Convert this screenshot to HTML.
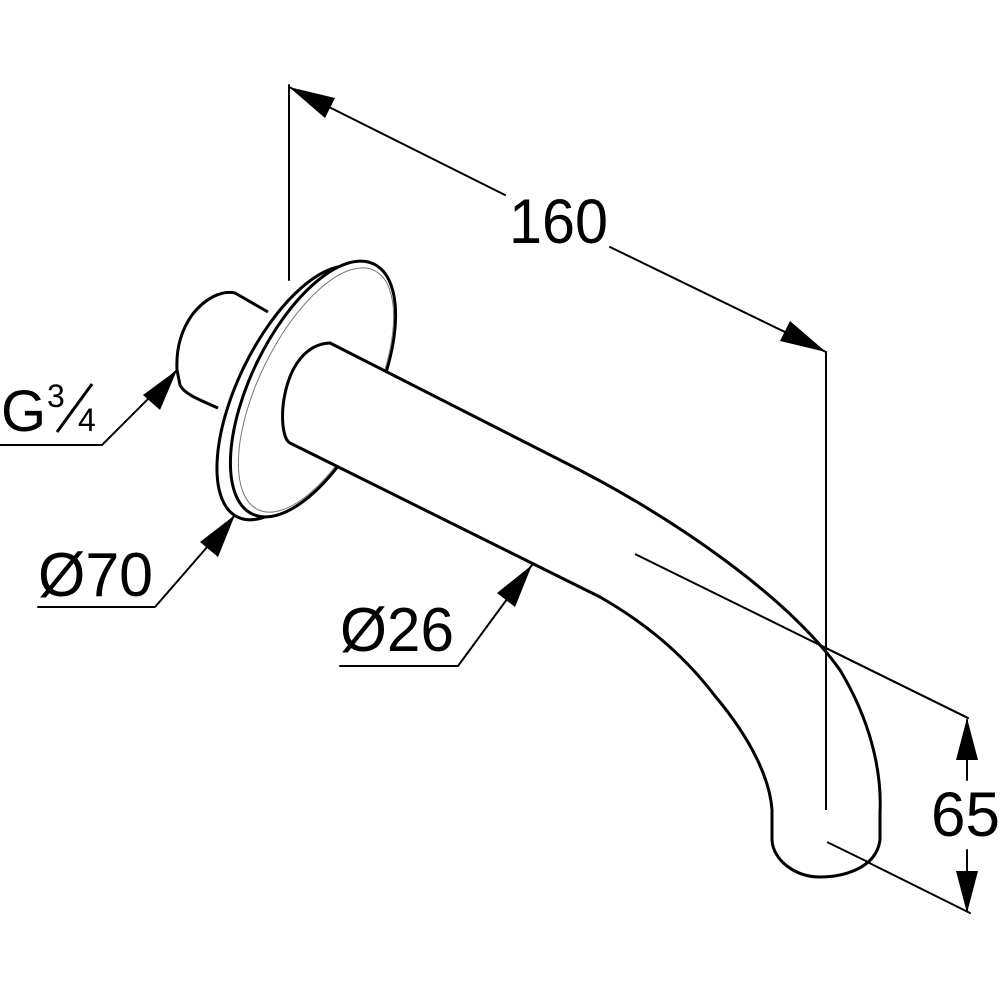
<!DOCTYPE html>
<html><head><meta charset="utf-8"><style>html,body{margin:0;padding:0;background:#fff}svg{display:block}</style></head>
<body>
<svg width="1000" height="1000" viewBox="0 0 1000 1000" xmlns="http://www.w3.org/2000/svg">
<rect width="1000" height="1000" fill="#fff"/>
<g fill="none" stroke="#000" stroke-linecap="round" stroke-linejoin="round">
<line x1="289" y1="85" x2="289" y2="280" stroke-width="2"/>
<line x1="826" y1="352" x2="826" y2="810" stroke-width="2"/>
<line x1="635" y1="554" x2="968" y2="718" stroke-width="2"/>
<line x1="827" y1="842" x2="970" y2="913" stroke-width="2"/>
<line x1="289" y1="87" x2="505" y2="195" stroke-width="2"/>
<line x1="610" y1="247" x2="826" y2="352" stroke-width="2"/>
<line x1="967" y1="720" x2="967" y2="780" stroke-width="2"/>
<line x1="967" y1="850" x2="967" y2="911" stroke-width="2"/>
<polyline points="0,445 102,445 177,370" stroke-width="2"/>
<polyline points="38,607 155,607 235,515" stroke-width="2"/>
<polyline points="340,666 458,666 532,565" stroke-width="2"/>
</g>
<g fill="#000">
<polygon points="289,87 335,98 325,118"/>
<polygon points="826,352 780,341 790,321"/>
<polygon points="967,718 978,760 956,760"/>
<polygon points="967,913 978,871 956,871"/>
<polygon points="177,370 160,410 143,395"/>
<polygon points="235,515 218,557 200,542"/>
<polygon points="532,565 515,607 497,593"/>
</g>
<path d="M268,312 L235,293 C222,290 205,298 192,315 C180,332 176,350 177,370 L180,385 C184,394 200,400 218,408" fill="#fff" stroke="#000" stroke-width="3"/>
<ellipse cx="298" cy="393" rx="60" ry="138" transform="rotate(26 298 393)" fill="#fff" stroke="#000" stroke-width="3"/>
<ellipse cx="313" cy="389" rx="62" ry="139" transform="rotate(26 313 389)" fill="#fff" stroke="#000" stroke-width="3"/>
<ellipse cx="316" cy="390" rx="57" ry="133" transform="rotate(26 316 390)" fill="none" stroke="#777" stroke-width="1"/>
<path d="M330,343 L560,460 C680,520 790,600 840,670 C870,720 882,770 880,813 L880,840 C876,870 840,877 820,877 C795,877 773,860 772,840 L772,810 C770,780 752,740 715,696 C680,650 640,620 600,597 L290,443 C275,435 280,345 330,343 Z" fill="#fff" stroke="#000" stroke-width="3"/>
<line x1="635" y1="554" x2="968" y2="718" stroke="#000" stroke-width="2"/>
<line x1="826" y1="352" x2="826" y2="810" stroke="#000" stroke-width="2"/>
<line x1="827" y1="842" x2="870" y2="863" stroke="#000" stroke-width="2"/>
<g font-family="Liberation Sans, sans-serif" fill="#000">
<text x="509" y="243" font-size="63" textLength="99" lengthAdjust="spacingAndGlyphs">160</text>
<text x="931" y="836" font-size="63" textLength="69" lengthAdjust="spacingAndGlyphs">65</text>
<text x="1" y="431" font-size="58">G</text>
<text x="47" y="407" font-size="32">3</text>
<line x1="57" y1="432" x2="92" y2="384" stroke="#000" stroke-width="3"/>
<text x="78" y="431" font-size="32">4</text>
<text x="38" y="596" font-size="62" textLength="115" lengthAdjust="spacingAndGlyphs">Ø70</text>
<text x="340" y="651" font-size="62" textLength="114" lengthAdjust="spacingAndGlyphs">Ø26</text>
</g>
</svg>
</body></html>
